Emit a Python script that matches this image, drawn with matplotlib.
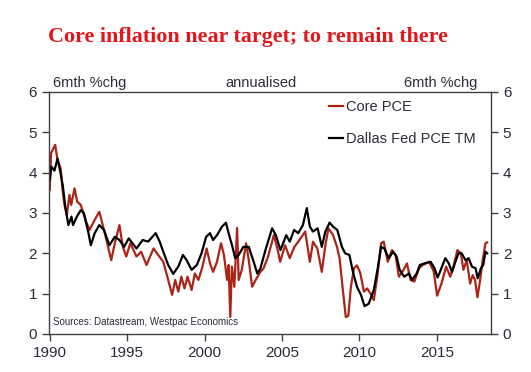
import matplotlib
matplotlib.use("Agg")
import matplotlib.pyplot as plt

# Core PCE, 6mth %chg annualised
core_t = [1990.0, 1990.08, 1990.35, 1990.5, 1990.7, 1990.85, 1990.95, 1991.1, 1991.27, 1991.38,
          1991.6, 1991.77, 1992.0, 1992.35, 1992.57, 1992.9, 1993.2, 1993.5, 1993.97, 1994.2,
          1994.5, 1994.72, 1994.94, 1995.2, 1995.6, 1995.9, 1996.25, 1996.7, 1997.0, 1997.33,
          1997.65, 1997.9, 1998.1, 1998.3, 1998.5, 1998.7, 1998.9, 1999.16, 1999.37, 1999.6,
          1999.85, 2000.13, 2000.35, 2000.55, 2000.8, 2001.06, 2001.25, 2001.45, 2001.55, 2001.66,
          2001.76, 2001.92, 2002.1, 2002.2, 2002.4, 2002.68, 2002.85, 2003.07, 2003.3, 2003.6,
          2003.8, 2004.1, 2004.47, 2004.7, 2004.88, 2005.2, 2005.5, 2005.8, 2006.2, 2006.5,
          2006.8, 2007.0, 2007.28, 2007.57, 2007.8, 2008.0, 2008.3, 2008.55, 2008.72, 2008.93,
          2009.12, 2009.28, 2009.45, 2009.65, 2009.84, 2010.05, 2010.29, 2010.5, 2010.72, 2010.93,
          2011.15, 2011.4, 2011.57, 2011.83, 2012.1, 2012.33, 2012.55, 2012.85, 2013.07, 2013.3,
          2013.55, 2013.85, 2014.1, 2014.5, 2014.8, 2015.02, 2015.3, 2015.6, 2015.87, 2016.1,
          2016.33, 2016.55, 2016.72, 2016.93, 2017.15, 2017.32, 2017.47, 2017.62, 2017.8, 2017.96,
          2018.14, 2018.25]
core_v = [3.57, 4.48, 4.69, 4.31, 4.11, 3.49, 3.2, 2.95, 3.45, 3.2,
          3.61, 3.28, 3.2, 2.78, 2.58, 2.83, 3.03, 2.58, 1.83, 2.25,
          2.7, 2.16, 1.92, 2.25, 1.92, 2.04, 1.71, 2.12, 1.96, 1.79,
          1.34, 0.97, 1.34, 1.05, 1.42, 1.13, 1.42, 1.09, 1.5, 1.34,
          1.65, 2.12, 1.75, 1.54, 1.79, 2.25, 1.96, 1.34, 1.71, 0.42,
          1.67, 1.17, 2.63, 1.34, 1.59, 2.25, 1.84, 1.17, 1.34, 1.54,
          1.62, 1.92, 2.45, 2.12, 1.79, 2.2, 1.88, 2.16, 2.37, 2.54,
          1.79, 2.29, 2.12, 1.54, 2.2, 2.62, 2.45, 2.16, 1.88, 1.09,
          0.42, 0.45, 1.17, 1.63, 1.7, 1.52, 1.05, 1.13, 1.0, 0.84,
          1.42, 2.25, 2.29, 1.79, 2.08, 1.96, 1.42, 1.59, 1.75, 1.34,
          1.3, 1.63, 1.71, 1.79, 1.55, 0.95, 1.25, 1.67, 1.42, 1.71,
          2.08, 2.0, 1.59, 1.83, 1.25, 1.46, 1.34, 0.91, 1.34, 1.83,
          2.25, 2.27]

# Dallas Fed trimmed mean PCE
tm_t = [1990.0, 1990.1, 1990.3, 1990.5, 1990.7, 1990.85, 1991.0, 1991.2, 1991.4, 1991.5,
        1991.75, 1992.0, 1992.2, 1992.5, 1992.65, 1992.9, 1993.2, 1993.5, 1993.85, 1994.2,
        1994.5, 1994.8, 1995.1, 1995.6, 1996.0, 1996.35, 1996.84, 1997.1, 1997.33, 1997.65,
        1997.97, 1998.3, 1998.6, 1998.84, 1999.16, 1999.5, 1999.8, 2000.1, 2000.35, 2000.55,
        2000.8, 2001.12, 2001.38, 2001.55, 2001.77, 2001.98, 2002.2, 2002.5, 2002.85, 2003.17,
        2003.4, 2003.6, 2003.93, 2004.36, 2004.6, 2004.9, 2005.27, 2005.5, 2005.78, 2006.05,
        2006.35, 2006.6, 2006.8, 2007.0, 2007.3, 2007.57, 2007.8, 2008.07, 2008.3, 2008.57,
        2008.87, 2009.08, 2009.35, 2009.58, 2009.84, 2010.1, 2010.33, 2010.6, 2010.93, 2011.2,
        2011.4, 2011.6, 2011.9, 2012.17, 2012.4, 2012.6, 2012.9, 2013.2, 2013.4, 2013.7,
        2013.9, 2014.2, 2014.6, 2014.85, 2015.05, 2015.2, 2015.55, 2015.77, 2015.98, 2016.2,
        2016.4, 2016.6, 2016.85, 2017.05, 2017.27, 2017.5, 2017.64, 2017.85, 2018.0, 2018.14,
        2018.25]
tm_v = [3.82, 4.15, 4.05, 4.35, 3.98, 3.65, 3.16, 2.7, 2.91, 2.7,
        2.91, 3.07, 3.0, 2.5, 2.2, 2.5, 2.7, 2.58, 2.2, 2.41,
        2.33, 2.16, 2.37, 2.12, 2.33, 2.29, 2.5, 2.29, 2.04, 1.71,
        1.49, 1.67, 1.96, 1.83, 1.59, 1.71, 2.0, 2.41, 2.5, 2.33,
        2.45, 2.66, 2.76, 2.5, 2.2, 1.88, 1.96, 2.16, 2.16, 1.79,
        1.5, 1.62, 2.08, 2.62, 2.45, 2.08, 2.45, 2.29, 2.58, 2.5,
        2.7, 3.12, 2.66, 2.54, 2.62, 2.16, 2.54, 2.76, 2.66, 2.58,
        2.16, 2.0, 1.96, 1.54, 1.17, 0.97, 0.69, 0.75, 1.09, 1.67,
        2.16, 2.12, 1.88, 2.04, 1.92, 1.59, 1.42, 1.5, 1.34, 1.5,
        1.71, 1.75, 1.79, 1.63, 1.4, 1.54, 1.88, 1.75, 1.54, 1.79,
        2.0, 2.0, 1.83, 1.88, 1.67, 1.63, 1.38, 1.63, 1.71, 2.04,
        2.0]

x_ticks = [1990, 1995, 2000, 2005, 2010, 2015]
y_ticks = [0, 1, 2, 3, 4, 5, 6]

plt.rcParams['font.family'] = ['Liberation Sans', 'DejaVu Sans']
txt = '#2b2b3a'
edge = '#404040'

fig = plt.figure(figsize=(5.31, 3.72), dpi=100)
ax = fig.add_axes([0.0923, 0.1022, 0.8324, 0.6505])

ax.plot(core_t, core_v, color='#ab2418', lw=1.6, label='Core PCE')
ax.plot(tm_t, tm_v, color='black', lw=1.6, label='Dallas Fed PCE TM')

ax.set_xlim(1989.95, 2018.5)
ax.set_ylim(0, 6)
ax.set_xticks(x_ticks)
ax.set_yticks(y_ticks)
ax.tick_params(axis='both', direction='out', length=5, color=edge, labelcolor=txt,
               labelsize=11, width=1)
ax.tick_params(axis='y', right=True, labelright=True)
for s in ax.spines.values():
    s.set_color(edge)
    s.set_linewidth(1)

ax.text(0.01, 1.01, '6mth %chg', transform=ax.transAxes, fontsize=10.5, color=txt,
        ha='left', va='bottom')
ax.text(0.48, 1.01, 'annualised', transform=ax.transAxes, fontsize=10.5, color=txt,
        ha='center', va='bottom')
ax.text(0.97, 1.01, '6mth %chg', transform=ax.transAxes, fontsize=10.5, color=txt,
        ha='right', va='bottom')
ax.text(0.008, 0.03, 'Sources: Datastream, Westpac Economics', transform=ax.transAxes,
        fontsize=7, color=txt, ha='left', va='bottom')

leg = ax.legend(loc='upper left', bbox_to_anchor=(0.62, 0.99), frameon=False,
                handlelength=1.0, handletextpad=0.2, labelspacing=1.2, fontsize=10.5,
                borderaxespad=0)
for t in leg.get_texts():
    t.set_color(txt)

fig.text(48 / 531, 1 - 37 / 372, 'Core inflation near target; to remain there',
         family='Liberation Serif', fontweight='bold', fontsize=15.8, color='#e3161b',
         ha='left', va='center')

fig.savefig('out.png', dpi=100)
